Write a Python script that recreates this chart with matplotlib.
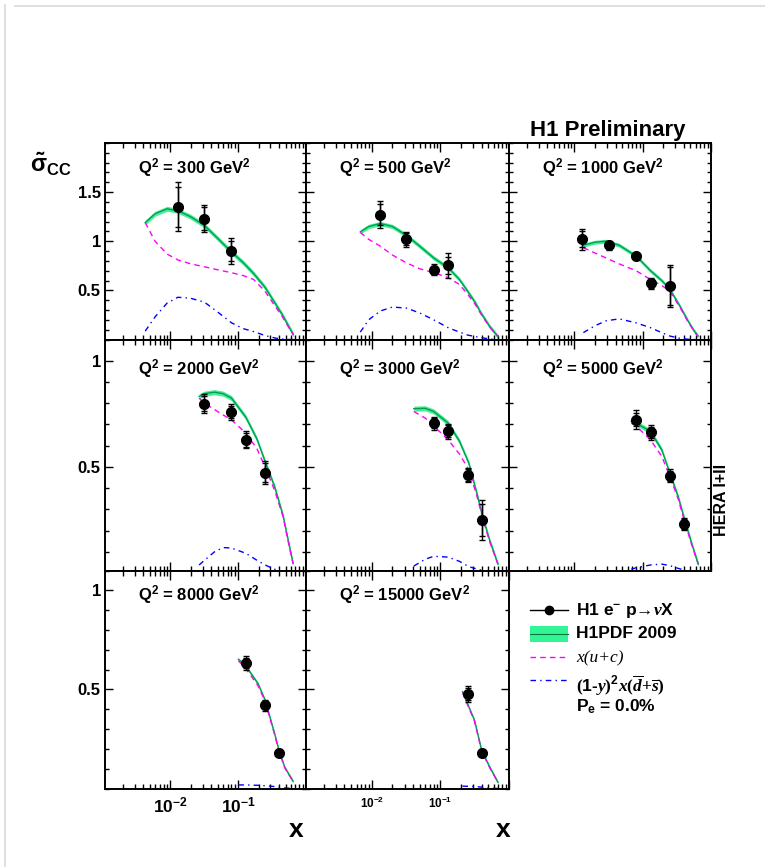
import numpy as np
import matplotlib
matplotlib.use('Agg')
import matplotlib.pyplot as plt
from matplotlib.ticker import FixedLocator, FuncFormatter, LogLocator, MultipleLocator, NullFormatter

plt.rcParams['font.family'] = ['Liberation Sans', 'DejaVu Sans']
plt.rcParams['font.weight'] = 'bold'
plt.rcParams['mathtext.fontset'] = 'custom'
plt.rcParams['mathtext.rm'] = 'Liberation Sans:bold'
plt.rcParams['mathtext.bf'] = 'Liberation Sans:bold'
plt.rcParams['mathtext.it'] = 'Liberation Serif:italic'
plt.rcParams['mathtext.cal'] = 'Liberation Serif'
plt.rcParams['mathtext.default'] = 'rm'

# Q^2 bins (GeV^2)
q2 = [300, 500, 1000, 2000, 3000, 5000, 8000, 15000]

# measured reduced CC cross sections
pt_x = [[0.013, 0.032, 0.08],
        [0.013, 0.032, 0.08, 0.13],
        [0.013, 0.032, 0.08, 0.13, 0.25],
        [0.032, 0.08, 0.13, 0.25],
        [0.08, 0.13, 0.25, 0.4],
        [0.08, 0.13, 0.25, 0.4],
        [0.13, 0.25, 0.4],
        [0.25, 0.4]]
pt_y = [[1.35, 1.23, 0.90],
        [1.27, 1.02, 0.71, 0.755],
        [1.02, 0.96, 0.845, 0.57, 0.545],
        [0.797, 0.758, 0.627, 0.473],
        [0.706, 0.667, 0.462, 0.25],
        [0.722, 0.662, 0.458, 0.231],
        [0.632, 0.42, 0.178],
        [0.476, 0.18]]
err_tot = [[0.25, 0.14, 0.13],
           [0.14, 0.075, 0.055, 0.13],
           [0.105, 0.045, 0.03, 0.055, 0.21],
           [0.045, 0.037, 0.04, 0.053],
           [0.031, 0.034, 0.034, 0.093],
           [0.044, 0.033, 0.03, 0.03],
           [0.035, 0.027, 0.015],
           [0.04, 0.012]]
err_stat = [[0.20, 0.12, 0.105],
            [0.105, 0.06, 0.04, 0.085],
            [0.08, 0.035, 0.025, 0.045, 0.19],
            [0.035, 0.03, 0.032, 0.045],
            [0.025, 0.028, 0.028, 0.075],
            [0.03, 0.027, 0.024, 0.024],
            [0.025, 0.02, 0.012],
            [0.03, 0.01]]

# H1PDF 2009 prediction and its two contributions
cx = [[0.0043, 0.006, 0.009, 0.013, 0.02, 0.032, 0.05, 0.08, 0.12, 0.17, 0.25, 0.35, 0.45, 0.55, 0.65],
      [0.0068, 0.009, 0.0133, 0.02, 0.032, 0.05, 0.08, 0.13, 0.19, 0.25, 0.32, 0.39, 0.52, 0.69],
      [0.0135, 0.02, 0.029, 0.045, 0.08, 0.13, 0.19, 0.25, 0.35, 0.46, 0.55, 0.645],
      [0.0267, 0.032, 0.045, 0.06, 0.08, 0.13, 0.19, 0.25, 0.345, 0.46, 0.55, 0.645],
      [0.041, 0.06, 0.08, 0.13, 0.19, 0.26, 0.35, 0.4, 0.52, 0.69],
      [0.068, 0.08, 0.13, 0.19, 0.25, 0.33, 0.4, 0.52, 0.65],
      [0.101, 0.13, 0.196, 0.25, 0.345, 0.4, 0.485, 0.645],
      [0.21, 0.314, 0.4, 0.52, 0.69]]
h1pdf = [[1.19, 1.28, 1.33, 1.31, 1.25, 1.16, 1.03, 0.89, 0.78, 0.67, 0.53, 0.37, 0.25, 0.14, 0.05],
         [1.095, 1.15, 1.18, 1.15, 1.06, 0.95, 0.83, 0.73, 0.61, 0.49, 0.38, 0.27, 0.135, 0.03],
         [0.96, 0.99, 1.0, 0.96, 0.85, 0.70, 0.60, 0.51, 0.34, 0.19, 0.10, 0.035],
         [0.832, 0.845, 0.852, 0.845, 0.824, 0.734, 0.63, 0.525, 0.407, 0.27, 0.15, 0.045],
         [0.774, 0.776, 0.761, 0.706, 0.62, 0.517, 0.36, 0.282, 0.156, 0.042],
         [0.714, 0.706, 0.667, 0.58, 0.47, 0.36, 0.265, 0.14, 0.042],
         [0.652, 0.618, 0.53, 0.446, 0.277, 0.192, 0.108, 0.036],
         [0.488, 0.344, 0.192, 0.11, 0.031]]
band = [0.025, 0.022, 0.02, 0.012, 0.012, 0.012, 0.008, 0.008]
x_uc = [[1.19, 1.00, 0.87, 0.81, 0.77, 0.74, 0.71, 0.68, 0.65, 0.61, 0.49, 0.34, 0.23, 0.13, 0.05],
        [1.09, 1.02, 0.95, 0.86, 0.78, 0.72, 0.68, 0.63, 0.56, 0.46, 0.36, 0.26, 0.13, 0.03],
        [0.935, 0.88, 0.83, 0.77, 0.70, 0.61, 0.55, 0.49, 0.33, 0.18, 0.10, 0.03],
        [0.824, 0.80, 0.77, 0.745, 0.722, 0.659, 0.585, 0.50, 0.39, 0.265, 0.145, 0.045],
        [0.761, 0.73, 0.693, 0.627, 0.56, 0.486, 0.35, 0.275, 0.15, 0.042],
        [0.706, 0.693, 0.627, 0.55, 0.454, 0.35, 0.255, 0.135, 0.042],
        [0.645, 0.605, 0.52, 0.44, 0.272, 0.19, 0.105, 0.036],
        [0.483, 0.34, 0.188, 0.107, 0.031]]
x_ds = [[0.085, 0.23, 0.37, 0.43, 0.42, 0.38, 0.28, 0.17, 0.11, 0.08, 0.04, 0.015, 0.005, 0.0, 0.0],
        [0.075, 0.2, 0.29, 0.33, 0.32, 0.27, 0.20, 0.12, 0.075, 0.045, 0.03, 0.02, 0.005, 0.0],
        [0.07, 0.14, 0.19, 0.21, 0.17, 0.12, 0.07, 0.035, 0.012, 0.003, 0.0, 0.0],
        [0.038, 0.06, 0.1, 0.12, 0.118, 0.093, 0.06, 0.038, 0.018, 0.005, 0.0, 0.0],
        [0.033, 0.065, 0.079, 0.075, 0.055, 0.03, 0.018, 0.013, 0.0, 0.0],
        [0.018, 0.025, 0.038, 0.042, 0.035, 0.022, 0.015, 0.0, 0.0],
        [0.018, 0.018, 0.016, 0.014, 0.01, 0.007, 0.003, 0.0],
        [0.012, 0.01, 0.007, 0.003, 0.0]]

W, H = 765, 867
col_px = [105, 306, 509, 711]
row_px = [143, 339.5, 570.5, 788.5]
row_ylim = [(0.0, 2.0), (0.012, 1.1), (0.0, 1.1)]
row_yticks = [[0.5, 1.0, 1.5], [0.5, 1.0], [0.5, 1.0]]

GREEN_BAND = '#46ee98'
GREEN_LINE = '#00a050'


def fmt_y(v, pos):
    return '%g' % v


def fmt_x(v, pos):
    e = int(round(np.log10(v)))
    if e in (-2, -1):
        return r'$10^{%d}$' % e
    return ''


fig = plt.figure(figsize=(W / 100, H / 100), dpi=100)

for i, q in enumerate(q2):
    r, c = divmod(i, 3)
    x0, x1 = col_px[c], col_px[c + 1]
    y0, y1 = row_px[r], row_px[r + 1]
    ax = fig.add_axes([x0 / W, 1 - y1 / H, (x1 - x0) / W, (y1 - y0) / H])
    ax.set_xscale('log')
    ax.set_xlim(1.1e-3, 1.0)
    ax.set_ylim(*row_ylim[r])

    xs = np.array(cx[i])
    g = np.array(h1pdf[i])
    ax.fill_between(xs, g - band[i], g + band[i], color=GREEN_BAND, lw=0)
    ax.plot(xs, g, color=GREEN_LINE, lw=1.0)
    ax.plot(xs, x_uc[i], color='#ff00ff', lw=1.0, dashes=(4, 3))
    ax.plot(xs, x_ds[i], color='#0000ff', lw=1.0, dashes=(4, 3, 1, 3))

    ax.errorbar(pt_x[i], pt_y[i], yerr=err_tot[i], fmt='o', color='k', ms=7,
                lw=1.0, capsize=2.5, capthick=1.0, zorder=5)
    ax.errorbar(pt_x[i], pt_y[i], yerr=err_stat[i], fmt='none', ecolor='k',
                lw=1.0, capsize=2.5, capthick=1.0, zorder=5)

    pw, ph = x1 - x0, y1 - y0
    top_off = 30 if r != 1 else 35
    ax.text(33 / pw, 1 - top_off / ph, r'Q$^{2}$ = %d GeV$^{2}$' % q,
            transform=ax.transAxes, fontsize=12, fontweight='bold', va='baseline')

    for s in ax.spines.values():
        s.set_linewidth(1.4)
    ax.tick_params(which='both', direction='in', top=True, right=True, width=1.0)
    ax.tick_params(axis='x', which='major', length=6.5)
    ax.tick_params(axis='x', which='minor', length=3.5)
    ax.tick_params(axis='y', which='major', length=6)
    ax.tick_params(axis='y', which='minor', length=3)
    ax.yaxis.set_major_locator(FixedLocator(row_yticks[r]))
    ax.yaxis.set_minor_locator(MultipleLocator(0.1))
    ax.xaxis.set_major_locator(LogLocator(base=10))
    ax.xaxis.set_minor_locator(LogLocator(base=10, subs=np.arange(2, 10)))
    ax.xaxis.set_minor_formatter(NullFormatter())

    if c == 0:
        ax.yaxis.set_major_formatter(FuncFormatter(fmt_y))
        ax.tick_params(axis='y', labelsize=12, pad=3)
    else:
        ax.yaxis.set_major_formatter(NullFormatter())
    if r == 2:
        ax.xaxis.set_major_formatter(FuncFormatter(fmt_x))
        ax.tick_params(axis='x', labelsize=12.5 if c == 0 else 8.5, pad=5)
    else:
        ax.xaxis.set_major_formatter(NullFormatter())

# overlay in pixel coordinates for the labels and the legend
lax = fig.add_axes([0, 0, 1, 1], zorder=10)
lax.set_xlim(0, W)
lax.set_ylim(H, 0)
lax.axis('off')

lax.plot([15, W], [6, 6], color='#d9d9d9', lw=1.2)
lax.plot([5, 5], [5, H], color='#d9d9d9', lw=1.2)

lax.text(608, 136, 'H1 Preliminary', fontsize=16, fontweight='bold',
         ha='center', va='baseline')
lax.text(30, 172, r'$\tilde{\sigma}_{\mathbf{CC}}$', fontsize=17, va='baseline')
lax.text(722, 500, 'HERA I+II', fontsize=11.5, fontweight='bold', rotation=90,
         ha='center', va='center')
lax.text(296, 830, 'x', fontsize=19, fontweight='bold', ha='center', va='center')
lax.text(503, 830, 'x', fontsize=19, fontweight='bold', ha='center', va='center')

# legend
lx0, lx1, tx = 530, 568, 576
lax.plot([lx0, lx1], [610, 610], color='k', lw=1.0)
lax.plot([(lx0 + lx1) / 2], [610], 'o', color='k', ms=6)
lax.fill_between([lx0, lx1], [626, 626], [642, 642], color='#33f595', lw=0)
lax.plot([lx0, lx1], [634, 634], color='#007a3a', lw=0.8)
lax.plot([lx0, lx1], [657, 657], color='#ff00ff', lw=1.0, dashes=(4, 3))
lax.plot([lx0, lx1], [680, 680], color='#0000ff', lw=1.0, dashes=(4, 3, 1, 3))
lax.text(tx, 610, 'H1 e$^{-}$ p\u2192$\\mathit{\\nu}$X', fontsize=12.5,
         fontweight='bold', va='center')
lax.text(tx, 634, 'H1PDF 2009', fontsize=12.5, fontweight='bold', va='center')
lax.text(tx, 658, 'x(u+c)', fontsize=12.5, family='Liberation Serif',
         style='italic', fontweight='normal', va='center')
lax.text(tx, 686, r'$\mathcal{(}1$-$\mathit{y}\mathcal{)}^{2}\mathit{x}\mathcal{(}'
         r'\overline{\mathit{d}}\mathcal{+}\overline{\mathit{s}}\mathcal{)}$',
         fontsize=12.5, va='center')
lax.text(tx, 707, r'P$_{e}$ = 0.0%', fontsize=12.5, fontweight='bold', va='center')

fig.savefig('out.png', dpi=100)
